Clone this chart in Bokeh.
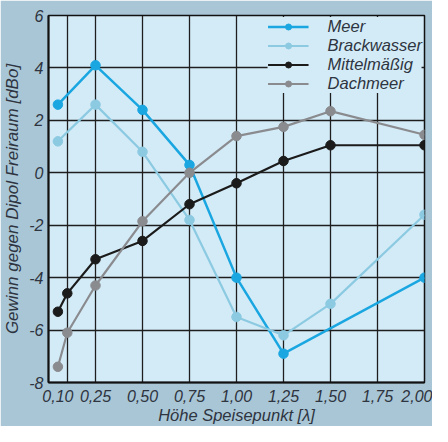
from bokeh.plotting import figure
from bokeh.models import FixedTicker, Legend, LegendItem
from bokeh.embed import file_html
from bokeh.resources import INLINE

# ---- data ----
x_meer = [0.05, 0.25, 0.5, 0.75, 1.0, 1.25, 2.0]
meer = [2.6, 4.1, 2.4, 0.3, -4.0, -6.9, -4.0]

x_brack = [0.05, 0.25, 0.5, 0.75, 1.0, 1.25, 1.5, 2.0]
brack = [1.2, 2.6, 0.8, -1.8, -5.5, -6.2, -5.0, -1.6]

x_full = [0.05, 0.1, 0.25, 0.5, 0.75, 1.0, 1.25, 1.5, 2.0]
mittel = [-5.3, -4.6, -3.3, -2.6, -1.2, -0.4, 0.45, 1.05, 1.05]
dach = [-7.4, -6.1, -4.3, -1.85, 0.0, 1.4, 1.75, 2.35, 1.45]

x_tick_pos = [0.05, 0.25, 0.5, 0.75, 1.0, 1.25, 1.5, 1.75, 2.0]
x_tick_labels = ["0,10", "0,25", "0,50", "0,75", "1,00", "1,25", "1,50", "1,75", "2,00"]
x_grid_pos = [0.1, 0.25, 0.5, 0.75, 1.0, 1.25, 1.5, 1.75]
y_ticks = [-8, -6, -4, -2, 0, 2, 4, 6]
y_tick_labels = ["-8", "-6", "-4", "-2", "0", "2", "4", "6"]

series_names = ["Meer", "Brackwasser", "Mittelmäßig", "Dachmeer"]
colors = ["#1aa6e0", "#8ccae2", "#1b1b1b", "#8a8b8f"]

TEXT = "#2e3440"
FONT = "Liberation Sans"

p = figure(width=432, height=426, x_range=(0, 2.0), y_range=(-8, 6),
           output_backend="svg", toolbar_location=None,
           min_border_left=47, min_border_right=8, min_border_top=15,
           min_border_bottom=43)

p.background_fill_color = "#d3ebf7"
p.border_fill_color = "#a9c6d6"
p.outline_line_color = "#111111"
p.outline_line_width = 1.5

# grid
p.xgrid.ticker = FixedTicker(ticks=x_grid_pos)
p.ygrid.ticker = FixedTicker(ticks=y_ticks[1:-1])
for g in (p.xgrid, p.ygrid):
    g.grid_line_color = "#1e1e1e"
    g.grid_line_width = 1.3

# axes
p.xaxis.ticker = FixedTicker(ticks=x_tick_pos)
p.xaxis.major_label_overrides = {t: l for t, l in zip(x_tick_pos, x_tick_labels)}
p.yaxis.ticker = FixedTicker(ticks=y_ticks)
p.yaxis.major_label_overrides = {t: l for t, l in zip(y_ticks, y_tick_labels)}

for ax in (p.xaxis, p.yaxis):
    ax.axis_line_color = "#111111"
    ax.axis_line_width = 2
    ax.major_tick_line_color = None
    ax.minor_tick_line_color = None
    ax.major_tick_out = 0
    ax.major_tick_in = 0
    ax.major_label_text_font = FONT
    ax.major_label_text_font_style = "italic"
    ax.major_label_text_font_size = "16px"
    ax.major_label_text_color = TEXT
    ax.axis_label_text_font = FONT
    ax.axis_label_text_font_style = "italic"
    ax.axis_label_text_color = TEXT

p.xaxis.axis_label = "Höhe Speisepunkt [λ]"
p.yaxis.axis_label = "Gewinn gegen Dipol Freiraum [dBo]"
p.xaxis.axis_label_text_font_size = "16.5px"
p.yaxis.axis_label_text_font_size = "17px"
p.xaxis.major_label_standoff = 7
p.xaxis.axis_label_standoff = 1
p.yaxis.major_label_standoff = 5
p.yaxis.axis_label_standoff = 4

# series
data = [(x_meer, meer), (x_brack, brack), (x_full, mittel), (x_full, dach)]
widths = [2.5, 2.2, 2.2, 2.2]
items = []
for (xs, ys), name, c, w in zip(data, series_names, colors, widths):
    r1 = p.line(xs, ys, line_color=c, line_width=w)
    r2 = p.scatter(xs, ys, marker="circle", size=9.5, fill_color=c, line_color=c)
    items.append(LegendItem(label=name, renderers=[r1, r2]))

legend = Legend(items=items, location="top_right")
legend.background_fill_color = "#d3ebf7"
legend.background_fill_alpha = 1.0
legend.border_line_color = None
legend.label_text_font = FONT
legend.label_text_font_style = "italic"
legend.label_text_font_size = "16.5px"
legend.label_text_color = TEXT
legend.glyph_width = 41
legend.glyph_height = 15
legend.label_height = 15
legend.label_standoff = 19
legend.spacing = -3
legend.padding = 3
legend.margin = 2
p.add_layout(legend, "center")

open("out.html", "w").write(file_html(p, INLINE))
